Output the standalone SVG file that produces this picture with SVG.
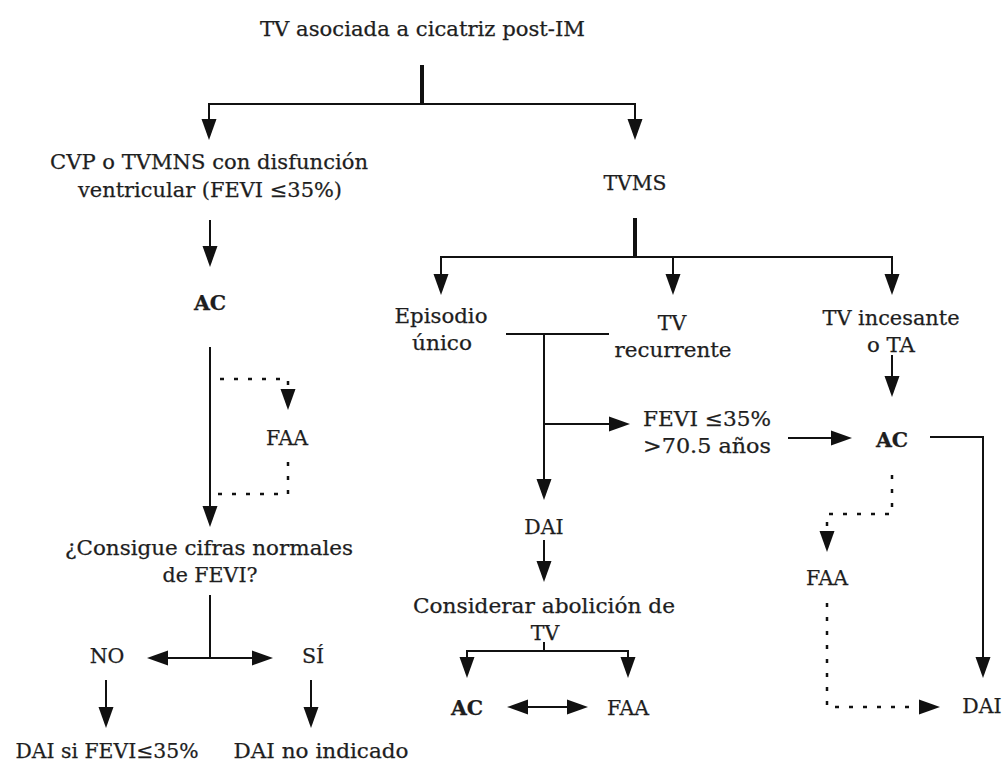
<svg xmlns="http://www.w3.org/2000/svg" width="1007" height="762" viewBox="0 0 1007 762">
<style>
text{font-family:"DejaVu Serif","Liberation Serif",serif;font-size:20.5px;fill:#1e1e1e;stroke:#1e1e1e;stroke-width:0.25;text-anchor:middle}
.b{font-weight:bold}
.c{fill:none;stroke:#111;stroke-width:2}
.k{fill:none;stroke:#111;stroke-width:4}
.d{fill:none;stroke:#111;stroke-width:2.5;stroke-dasharray:4 10}
.a{marker-end:url(#ah)}
.aa{marker-start:url(#ahs);marker-end:url(#ah)}
</style>
<defs>
<marker id="ah" markerUnits="userSpaceOnUse" markerWidth="21" markerHeight="16" refX="4" refY="8" orient="auto"><path d="M0,0.5 L21,8 L0,15.5 z" fill="#111"/></marker>
<marker id="ahs" markerUnits="userSpaceOnUse" markerWidth="21" markerHeight="16" refX="4" refY="8" orient="auto-start-reverse"><path d="M0,0.5 L21,8 L0,15.5 z" fill="#111"/></marker>
</defs>
<rect width="1007" height="762" fill="#fff"/>
<g id="connectors">
<line class="k" x1="422" y1="65" x2="422" y2="104"/>
<path class="c" d="M209,104 H635"/>
<line class="c a" x1="209" y1="103" x2="209" y2="123"/>
<line class="c a" x1="635" y1="103" x2="635" y2="123"/>
<line class="c a" x1="210" y1="220" x2="210" y2="250"/>
<line class="c a" x1="210" y1="347" x2="210" y2="510"/>
<path class="d a" d="M220,379 H288 V393"/>
<path class="d" d="M288,462 V494 H212"/>
<line class="c" x1="210" y1="595" x2="210" y2="658"/>
<line class="c aa" x1="164" y1="658" x2="256" y2="658"/>
<line class="c a" x1="106" y1="680" x2="106" y2="711"/>
<line class="c a" x1="311" y1="680" x2="311" y2="711"/>
<line class="k" x1="635" y1="218" x2="635" y2="257"/>
<path class="c" d="M441,257 H892"/>
<line class="c a" x1="441" y1="256" x2="441" y2="278"/>
<line class="c a" x1="673" y1="256" x2="673" y2="278"/>
<line class="c a" x1="892" y1="256" x2="892" y2="278"/>
<line class="c" x1="506" y1="334" x2="609" y2="334"/>
<line class="c a" x1="544" y1="334" x2="544" y2="483"/>
<line class="c a" x1="544" y1="424" x2="613" y2="424"/>
<line class="c a" x1="788" y1="438" x2="835" y2="438"/>
<line class="c a" x1="892" y1="355" x2="892" y2="380"/>
<path class="c a" d="M930,437 H983 V661"/>
<path class="d a" d="M892,475 V514 H827 V535"/>
<path class="d a" d="M827,603 V707 H923"/>
<line class="c a" x1="544" y1="540" x2="544" y2="565"/>
<line class="c" x1="544" y1="642" x2="544" y2="651"/>
<path class="c" d="M467,651 H628"/>
<line class="c a" x1="467" y1="650" x2="467" y2="661"/>
<line class="c a" x1="628" y1="650" x2="628" y2="661"/>
<line class="c aa" x1="524" y1="707" x2="571" y2="707"/>
</g>
<g id="n-root"><text x="422.5" y="36" textLength="325" lengthAdjust="spacingAndGlyphs">TV asociada a cicatriz post-IM</text></g>
<g id="n-cvp"><text x="209" y="169" textLength="318" lengthAdjust="spacingAndGlyphs">CVP o TVMNS con disfunción</text><text x="210" y="197" textLength="264" lengthAdjust="spacingAndGlyphs">ventricular (FEVI ≤35%)</text></g>
<g id="n-ac1"><text class="b" x="210" y="310">AC</text></g>
<g id="n-faa1"><text x="287" y="445">FAA</text></g>
<g id="n-consigue"><text x="209" y="555" textLength="288" lengthAdjust="spacingAndGlyphs">¿Consigue cifras normales</text><text x="210" y="582" textLength="95" lengthAdjust="spacingAndGlyphs">de FEVI?</text></g>
<g id="n-no"><text x="107" y="663">NO</text></g>
<g id="n-si"><text x="313" y="663">SÍ</text></g>
<g id="n-dai-si"><text x="107" y="758" textLength="183" lengthAdjust="spacingAndGlyphs">DAI si FEVI≤35%</text></g>
<g id="n-dai-no"><text x="321" y="758" textLength="175" lengthAdjust="spacingAndGlyphs">DAI no indicado</text></g>
<g id="n-tvms"><text x="635" y="190" textLength="63" lengthAdjust="spacingAndGlyphs">TVMS</text></g>
<g id="n-episodio"><text x="441" y="323" textLength="93" lengthAdjust="spacingAndGlyphs">Episodio</text><text x="442" y="350" textLength="60" lengthAdjust="spacingAndGlyphs">único</text></g>
<g id="n-recurrente"><text x="672" y="330">TV</text><text x="673" y="357" textLength="117" lengthAdjust="spacingAndGlyphs">recurrente</text></g>
<g id="n-incesante"><text x="891" y="325" textLength="137" lengthAdjust="spacingAndGlyphs">TV incesante</text><text x="891" y="352" textLength="48" lengthAdjust="spacingAndGlyphs">o TA</text></g>
<g id="n-fevi"><text x="707" y="426" textLength="128" lengthAdjust="spacingAndGlyphs">FEVI ≤35%</text><text x="707" y="453" textLength="128" lengthAdjust="spacingAndGlyphs">&gt;70.5 años</text></g>
<g id="n-ac2"><text class="b" x="892" y="447">AC</text></g>
<g id="n-faa2"><text x="827" y="585">FAA</text></g>
<g id="n-dai2"><text x="982" y="713">DAI</text></g>
<g id="n-dai1"><text x="544" y="534">DAI</text></g>
<g id="n-considerar"><text x="544" y="613" textLength="262" lengthAdjust="spacingAndGlyphs">Considerar abolición de</text><text x="545" y="640">TV</text></g>
<g id="n-ac3"><text class="b" x="467" y="715">AC</text></g>
<g id="n-faa3"><text x="628" y="715">FAA</text></g>
</svg>
